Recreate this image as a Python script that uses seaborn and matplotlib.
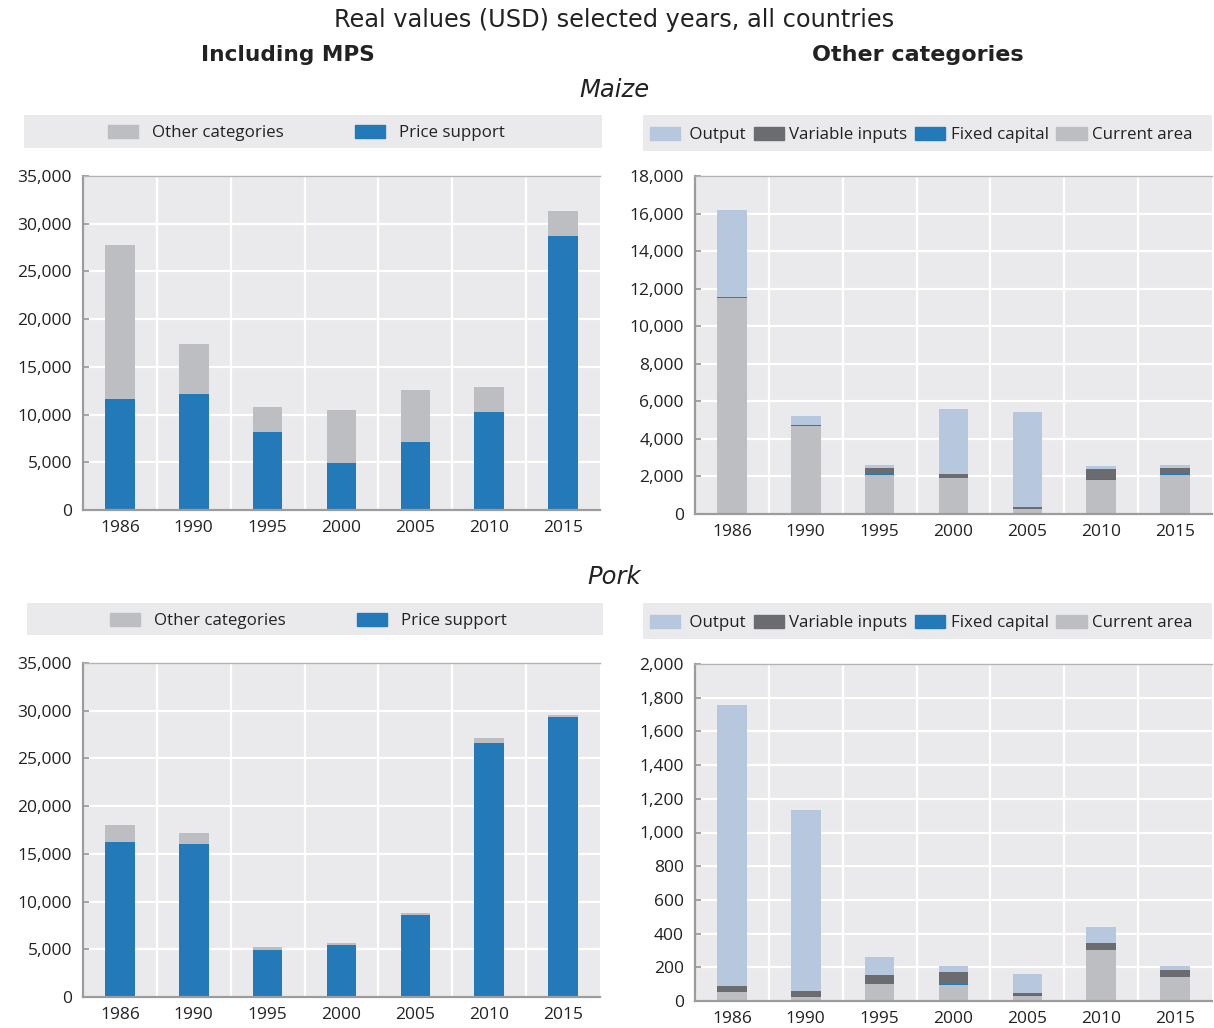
import matplotlib
matplotlib.use("Agg")
import matplotlib.pyplot as plt
from matplotlib.patches import Patch, Rectangle
from matplotlib.ticker import FuncFormatter, FixedLocator
import seaborn as sns

sns.set_theme(style="white")
plt.rcParams["font.family"] = ["Open Sans", "DejaVu Sans"]

years = ["1986", "1990", "1995", "2000", "2005", "2010", "2015"]

# Maize, USD
maize_price_support = [11600, 12200, 8200, 4900, 7100, 10300, 28700]
maize_current_area = [11500, 4700, 2100, 1900, 250, 1800, 2100]
maize_fixed_capital = [20, 40, 40, 30, 20, 50, 40]
maize_variable_inputs = [20, 20, 310, 200, 100, 550, 310]
maize_output = [4660, 460, 160, 3460, 5060, 160, 160]

# Pork, USD
pork_price_support = [16250, 16050, 4930, 5450, 8600, 26650, 29350]
pork_current_area = [53, 24, 100, 93, 30, 300, 140]
pork_fixed_capital = [2, 1, 2, 5, 4, 3, 3]
pork_variable_inputs = [35, 34, 52, 74, 14, 41, 41]
pork_output = [1667, 1075, 107, 36, 112, 95, 24]

C_BLUE = "#2479B9"
C_GREY = "#BDBEC1"
C_OUTPUT = "#B7C7DE"
C_VAR = "#6B6C70"
C_BG = "#EAEAEC"
C_SPINE = "#9C9C9C"
C_TEXT = "#222222"

W, H = 1214, 1028
fig = plt.figure(figsize=(W / 100, H / 100), dpi=100)


def box(l, t, r, b):
    return [l / W, 1 - b / H, (r - l) / W, (b - t) / H]


def cumulate(*series):
    out, run = [], [0] * len(series[0])
    for s in series:
        run = [a + b for a, b in zip(run, s)]
        out.append(run)
    return out


def style_axes(ax, ymax, step):
    ax.set_facecolor(C_BG)
    ax.set_xlim(-0.5, len(years) - 0.5)
    ax.set_ylim(0, ymax)
    ax.set_xlabel("")
    ax.set_ylabel("")
    ax.set_yticks(range(0, ymax + 1, step))
    ax.yaxis.set_major_formatter(FuncFormatter(lambda v, p: f"{int(v):,}"))
    ax.xaxis.set_minor_locator(FixedLocator([i + 0.5 for i in range(len(years) - 1)]))
    ax.grid(axis="y", which="major", color="white", lw=1.6)
    ax.grid(axis="x", which="minor", color="white", lw=1.6)
    ax.grid(axis="x", which="major", visible=False)
    ax.set_axisbelow(True)
    ax.spines["right"].set_visible(False)
    ax.spines["top"].set_color("#B4B4B6")
    ax.spines["top"].set_linewidth(1.0)
    for s in ("bottom", "left"):
        ax.spines[s].set_color(C_SPINE)
        ax.spines[s].set_linewidth(1.6)
    ax.tick_params(axis="x", which="major", length=0, labelsize=12.5, pad=7, colors=C_TEXT)
    ax.tick_params(axis="x", which="minor", length=5, width=1.3, direction="in", color=C_SPINE)
    ax.tick_params(axis="y", which="major", length=4, width=1.3, direction="in", color=C_SPINE,
                   labelsize=12.5, pad=8, labelcolor=C_TEXT, left=True)


def stacked(ax, layers):
    # draw cumulative totals back to front so each layer shows its own share
    for vals, col in layers:
        sns.barplot(x=years, y=vals, color=col, saturation=1, width=0.4, linewidth=0,
                    ax=ax, order=years)


def mps_panel(rect, price_support, others):
    ax = fig.add_axes(rect)
    total = [a + b for a, b in zip(price_support, others)]
    stacked(ax, [(total, C_GREY), (price_support, C_BLUE)])
    style_axes(ax, 35000, 5000)
    return ax


def other_panel(rect, current, fixed, variable, output, ymax, step):
    ax = fig.add_axes(rect)
    c1, c2, c3, c4 = cumulate(current, fixed, variable, output)
    stacked(ax, [(c4, C_OUTPUT), (c3, C_VAR), (c2, C_BLUE), (c1, C_GREY)])
    style_axes(ax, ymax, step)
    return ax


maize_other = [sum(v) for v in zip(maize_current_area, maize_fixed_capital,
                                   maize_variable_inputs, maize_output)]
pork_other = [sum(v) for v in zip(pork_current_area, pork_fixed_capital,
                                  pork_variable_inputs, pork_output)]

mps_panel(box(83, 176, 600, 510), maize_price_support, maize_other)
other_panel(box(695, 176, 1212, 514), maize_current_area, maize_fixed_capital,
            maize_variable_inputs, maize_output, 18000, 2000)
mps_panel(box(83, 663, 600, 997), pork_price_support, pork_other)
other_panel(box(695, 664, 1212, 1001), pork_current_area, pork_fixed_capital,
            pork_variable_inputs, pork_output, 2000, 200)


def legend_band(l, t, r, b, cx, cy, handles, ncol, colspacing, textpad):
    fig.patches.append(Rectangle((l / W, 1 - b / H), (r - l) / W, (b - t) / H,
                                 transform=fig.transFigure, facecolor=C_BG,
                                 edgecolor="none", zorder=0))
    fig.legend(handles=handles, loc="center", ncol=ncol, frameon=False,
               bbox_to_anchor=(cx / W, 1 - cy / H),
               fontsize=12.2, handlelength=1.8, handleheight=0.8,
               handletextpad=textpad, columnspacing=colspacing, borderaxespad=0,
               borderpad=0, labelcolor=C_TEXT)


mps_handles = [Patch(color=C_GREY, label="Other categories"),
               Patch(color=C_BLUE, label="Price support")]
oth_handles = [Patch(color=C_OUTPUT, label=" Output"),
               Patch(color=C_VAR, label="Variable inputs"),
               Patch(color=C_BLUE, label="Fixed capital"),
               Patch(color=C_GREY, label="Current area")]

legend_band(24, 115, 602, 148, 306, 133, mps_handles, 2, 4.2, 0.8)
legend_band(643, 115, 1212, 151, 921, 135, oth_handles, 4, 0.45, 0.3)
legend_band(27, 603, 603, 635, 308, 621, mps_handles, 2, 4.2, 0.8)
legend_band(643, 603, 1212, 639, 921, 623, oth_handles, 4, 0.45, 0.3)

fig.text(614 / W, 1 - 20 / H, "Real values (USD) selected years, all countries",
         ha="center", va="center", fontsize=17.3, color=C_TEXT, family="DejaVu Sans")
fig.text(288 / W, 1 - 55 / H, "Including MPS", ha="center", va="center",
         fontsize=15.6, fontweight="bold", color=C_TEXT, family="DejaVu Sans")
fig.text(918 / W, 1 - 55 / H, "Other categories", ha="center", va="center",
         fontsize=16, fontweight="bold", color=C_TEXT, family="DejaVu Sans")
fig.text(614 / W, 1 - 90 / H, "Maize", ha="center", va="center",
         fontsize=17.5, style="italic", color=C_TEXT, family="DejaVu Sans")
fig.text(614 / W, 1 - 577 / H, "Pork", ha="center", va="center",
         fontsize=17.5, style="italic", color=C_TEXT, family="DejaVu Sans")

fig.savefig("out.png", dpi=100)
